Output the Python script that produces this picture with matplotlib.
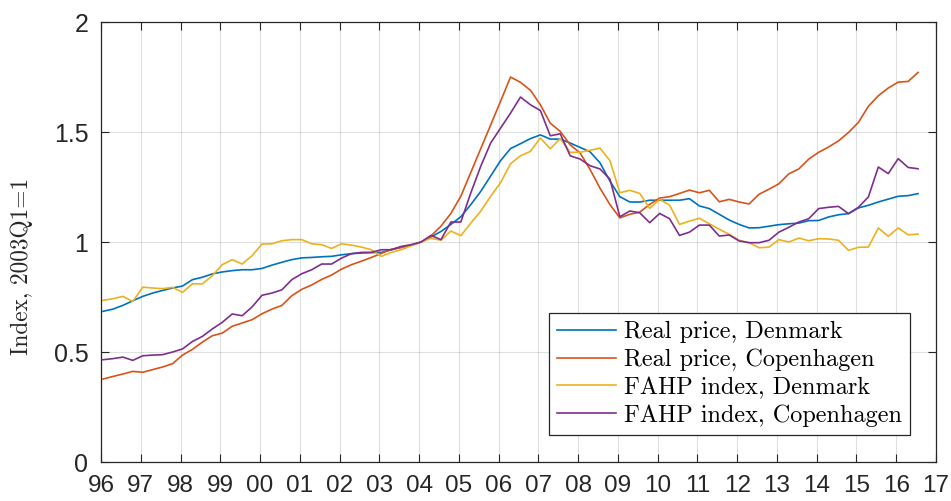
import numpy as np
import matplotlib
matplotlib.use("Agg")
import matplotlib.pyplot as plt

# quarterly data, 1996Q1 - 2016Q3
start_year = 1996
real_dk = [0.685, 0.695, 0.712, 0.733,
           0.753, 0.768, 0.780, 0.791,
           0.800, 0.829, 0.840, 0.855,
           0.864, 0.870, 0.874, 0.874,
           0.880, 0.895, 0.908, 0.920,
           0.928, 0.930, 0.933, 0.935,
           0.942, 0.947, 0.950, 0.952,
           0.953, 0.965, 0.976, 0.986,
           1.000, 1.023, 1.048, 1.080,
           1.115, 1.170, 1.230, 1.300,
           1.370, 1.425, 1.447, 1.470,
           1.487, 1.468, 1.468, 1.450,
           1.430, 1.410, 1.360, 1.277,
           1.206, 1.182, 1.182, 1.190,
           1.190, 1.190, 1.190, 1.197,
           1.164, 1.152, 1.126, 1.100,
           1.080, 1.064, 1.065, 1.072,
           1.079, 1.083, 1.086, 1.097,
           1.098, 1.114, 1.124, 1.129,
           1.155, 1.167, 1.182, 1.195,
           1.208, 1.211, 1.220]

real_cph = [0.377, 0.389, 0.400, 0.412,
            0.408, 0.420, 0.432, 0.447,
            0.486, 0.512, 0.545, 0.574,
            0.586, 0.617, 0.632, 0.647,
            0.674, 0.695, 0.712, 0.756,
            0.785, 0.805, 0.830, 0.850,
            0.877, 0.897, 0.913, 0.930,
            0.948, 0.967, 0.975, 0.985,
            1.000, 1.028, 1.072, 1.130,
            1.208, 1.316, 1.424, 1.532,
            1.640, 1.750, 1.726, 1.690,
            1.624, 1.540, 1.503, 1.442,
            1.405, 1.330, 1.245, 1.170,
            1.110, 1.126, 1.136, 1.171,
            1.200, 1.206, 1.221, 1.236,
            1.224, 1.235, 1.183, 1.194,
            1.182, 1.173, 1.217, 1.240,
            1.265, 1.310, 1.332, 1.377,
            1.408, 1.432, 1.460, 1.498,
            1.544, 1.617, 1.665, 1.700,
            1.727, 1.730, 1.771]

fahp_dk = [0.735, 0.742, 0.753, 0.730,
           0.795, 0.791, 0.788, 0.794,
           0.771, 0.810, 0.810, 0.847,
           0.897, 0.920, 0.900, 0.938,
           0.991, 0.992, 1.006, 1.011,
           1.011, 0.992, 0.988, 0.971,
           0.992, 0.986, 0.977, 0.965,
           0.935, 0.953, 0.965, 0.983,
           1.000, 1.017, 1.008, 1.050,
           1.029, 1.086, 1.140, 1.208,
           1.270, 1.356, 1.392, 1.412,
           1.473, 1.424, 1.470, 1.408,
           1.408, 1.417, 1.427, 1.370,
           1.224, 1.235, 1.221, 1.153,
           1.194, 1.168, 1.080, 1.095,
           1.108, 1.083, 1.058, 1.035,
           1.008, 0.997, 0.974, 0.977,
           1.011, 1.000, 1.018, 1.006,
           1.015, 1.014, 1.008, 0.962,
           0.976, 0.977, 1.064, 1.026,
           1.064, 1.033, 1.036]

fahp_cph = [0.465, 0.470, 0.477, 0.462,
            0.483, 0.486, 0.488, 0.500,
            0.514, 0.548, 0.571, 0.605,
            0.635, 0.673, 0.665, 0.705,
            0.758, 0.768, 0.783, 0.829,
            0.856, 0.874, 0.900, 0.900,
            0.927, 0.947, 0.953, 0.953,
            0.965, 0.965, 0.980, 0.988,
            1.000, 1.030, 1.011, 1.091,
            1.091, 1.223, 1.344, 1.450,
            1.518, 1.586, 1.659, 1.624,
            1.598, 1.483, 1.492, 1.392,
            1.377, 1.347, 1.332, 1.286,
            1.115, 1.141, 1.133, 1.088,
            1.130, 1.106, 1.030, 1.045,
            1.077, 1.077, 1.027, 1.032,
            1.005, 0.997, 0.997, 1.008,
            1.045, 1.067, 1.091, 1.106,
            1.152, 1.158, 1.162, 1.129,
            1.158, 1.205, 1.341, 1.311,
            1.379, 1.339, 1.333]

labels = ["Real price, Denmark", "Real price, Copenhagen",
          "FAHP index, Denmark", "FAHP index, Copenhagen"]
year_ticks = list(range(1996, 2018))
year_labels = ["%02d" % (y % 100) for y in year_ticks]

# MATLAB default colour order
colors = ["#0072BD", "#D95319", "#EDB120", "#7E2F8E"]

t = start_year + np.arange(len(real_dk)) / 4 + 0.05

fig = plt.figure(figsize=(9.51, 5.01), dpi=100)
ax = fig.add_axes([0.1062, 0.0778, 0.8780, 0.8782])

for series, lab, c in zip([real_dk, real_cph, fahp_dk, fahp_cph], labels, colors):
    ax.plot(t, series, color=c, lw=1.2, label=lab)

ax.set_xlim(1996, 2017)
ax.set_ylim(0, 2)
ax.set_xticks(year_ticks)
ax.set_xticklabels(year_labels)
ax.set_yticks([0, 0.5, 1, 1.5, 2])
ax.set_yticklabels(["0", "0.5", "1", "1.5", "2"])

axcol = "#262626"
ax.tick_params(direction="in", length=6, width=0.8, colors=axcol,
               labelsize=18, top=True, right=True, labelfontfamily="Liberation Sans")
ax.tick_params(axis="x", labelsize=17.5, pad=9.5)
ax.tick_params(axis="y", pad=9)
for s in ax.spines.values():
    s.set_color(axcol)
    s.set_linewidth(0.9)

ax.grid(True, color="#000000", alpha=0.12, lw=0.8)
ax.set_axisbelow(True)

ax.set_ylabel("Index, 2003Q1=1", fontfamily="cmr10", fontsize=16.8, color=axcol)
ax.yaxis.set_label_coords(-0.081, 0.445)

leg = ax.legend(loc="lower right", bbox_to_anchor=(0.969, 0.061), borderaxespad=0,
                prop={"family": "cmr10", "size": 17.5}, fancybox=False, framealpha=1,
                edgecolor=axcol, handlelength=2.4, handletextpad=0.33,
                labelspacing=0.22, borderpad=0.35)
leg.get_frame().set_linewidth(0.9)

fig.savefig("out.png", dpi=100)
